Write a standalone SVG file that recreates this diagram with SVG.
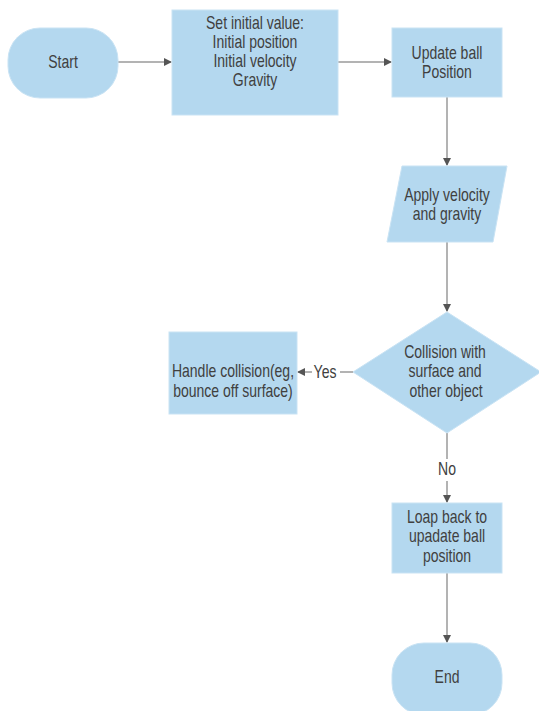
<svg xmlns="http://www.w3.org/2000/svg" width="539" height="711" viewBox="0 0 539 711">
<style>
.n{fill:#b4d8ef;stroke:#c9e3f4;stroke-width:1}
.t{font-family:"Liberation Sans",Arial,sans-serif;font-size:16px;fill:#404040;text-anchor:middle}
.c{stroke:#9a9a9a;stroke-width:1.5;fill:none}
.ca{stroke:#9a9a9a;stroke-width:1.5;fill:none;marker-end:url(#ah)}
</style>
<defs>
<marker id="ah" markerWidth="8" markerHeight="8" refX="7" refY="4" orient="auto" markerUnits="userSpaceOnUse">
<path d="M0,0 L8,4 L0,8 Z" fill="#555"/>
</marker>
</defs>
<rect width="539" height="711" fill="#fff"/>
<g id="connectors">
<line class="ca" x1="118" y1="62" x2="171" y2="62"/>
<line class="ca" x1="338" y1="62" x2="391" y2="62"/>
<line class="ca" x1="447" y1="97" x2="447" y2="165"/>
<line class="ca" x1="447" y1="242" x2="447" y2="311"/>
<line class="c" x1="353" y1="372" x2="340" y2="372"/>
<line class="ca" x1="312" y1="372" x2="298" y2="372"/>
<text class="t" transform="translate(325,378) scale(0.875,1.1)">Yes</text>
<line class="c" x1="447" y1="433" x2="447" y2="459"/>
<line class="ca" x1="447" y1="481" x2="447" y2="502"/>
<text class="t" transform="translate(447,475) scale(0.875,1.1)">No</text>
<line class="ca" x1="447" y1="573" x2="447" y2="642"/>
</g>
<g id="start">
<rect class="n" x="8" y="28" width="110" height="70" rx="32"/>
<text class="t" transform="translate(63,68) scale(0.875,1.1)">Start</text>
</g>
<g id="init">
<rect class="n" x="172" y="10" width="166" height="105"/>
<text class="t" transform="translate(255,29) scale(0.875,1.1)">Set initial value:</text>
<text class="t" transform="translate(255,48) scale(0.875,1.1)">Initial position</text>
<text class="t" transform="translate(255,67) scale(0.875,1.1)">Initial velocity</text>
<text class="t" transform="translate(255,86) scale(0.875,1.1)">Gravity</text>
</g>
<g id="update">
<rect class="n" x="392" y="28" width="110" height="69"/>
<text class="t" transform="translate(447,59) scale(0.875,1.1)">Update ball</text>
<text class="t" transform="translate(447,78) scale(0.875,1.1)">Position</text>
</g>
<g id="apply">
<polygon class="n" points="402,166 507,166 493,242 387,242"/>
<text class="t" transform="translate(447,201) scale(0.875,1.1)">Apply velocity</text>
<text class="t" transform="translate(447,220) scale(0.875,1.1)">and gravity</text>
</g>
<g id="collision">
<polygon class="n" points="447,312 541,372 447,433 353,372"/>
<text class="t" transform="translate(445,358) scale(0.875,1.1)">Collision with</text>
<text class="t" transform="translate(445,377) scale(0.875,1.1)">surface and</text>
<text class="t" transform="translate(446,397) scale(0.875,1.1)">other object</text>
</g>
<g id="handle">
<rect class="n" x="169" y="332" width="128" height="82"/>
<text class="t" transform="translate(233,377) scale(0.875,1.1)">Handle collision(eg,</text>
<text class="t" transform="translate(233,397) scale(0.875,1.1)">bounce off surface)</text>
</g>
<g id="loop">
<rect class="n" x="392" y="503" width="110" height="70"/>
<text class="t" transform="translate(447,523) scale(0.875,1.1)">Loap back to</text>
<text class="t" transform="translate(447,542) scale(0.875,1.1)">upadate ball</text>
<text class="t" transform="translate(447,562) scale(0.875,1.1)">position</text>
</g>
<g id="end">
<rect class="n" x="392" y="643" width="110" height="72" rx="32"/>
<text class="t" transform="translate(447,683) scale(0.875,1.1)">End</text>
</g>
</svg>
